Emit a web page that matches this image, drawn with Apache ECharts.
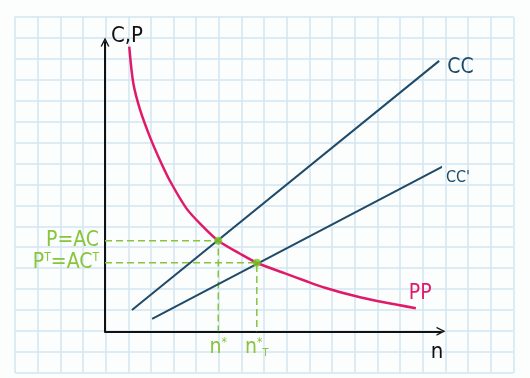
<!DOCTYPE html>
<html>
<head>
<meta charset="utf-8">
<script src="https://cdn.jsdelivr.net/npm/echarts@6/dist/echarts.min.js"></script>
<style>
  html, body { margin: 0; padding: 0; background: #fcfdfd; }
  #chart { width: 530px; height: 378px; }
</style>
</head>
<body>
<div id="chart"></div>
<script>
// units: one paper square per unit on each axis, origin at the axis corner
var ppN = [1.07, 1.25, 1.55, 1.99, 2.43, 2.87, 3.61, 4.34, 5.00, 5.96, 6.70, 7.95, 8.83, 9.71, 11.04, 12.36, 13.72];
var ppP = [13.58, 11.83, 10.56, 9.25, 8.15, 7.17, 5.84, 4.98, 4.32, 3.70, 3.27, 2.76, 2.41, 2.08, 1.68, 1.37, 1.10];
var ccN = [1.19, 14.75];
var ccC = [1.02, 12.9];
var cc2N = [2.08, 16.38];
var cc2C = [0.59, 8.70];
var eqN = [5.0, 6.7];
var eqP = [4.32, 3.27];
var nLabels = ['{n|n}{s|*}', '{n|n}{s|*}{t|T}'];
var pLabels = ['{n|P=AC}', '{n|P}{s|T}{n|=AC}{s|T}'];

var hand = "'Liberation Sans Narrow', 'DejaVu Sans Condensed', sans-serif";
var green = '#86c53c';
var greenRich = {
    n: { fontSize: 21, color: green, fontFamily: hand },
    s: { fontSize: 12, color: green, fontFamily: hand, verticalAlign: 'top', padding: [0, 0, 8, 0] },
    t: { fontSize: 11, color: green, fontFamily: hand, verticalAlign: 'bottom', padding: [8, 0, 0, 0] }
};

function pairs(xs, ys) {
    return xs.map(function (x, i) { return [x, ys[i]]; });
}

var chevron = 'path://M0,10 L5,0 L10,10 L8.4,10 L5,3.2 L1.6,10 Z';

var myChart = echarts.init(document.getElementById('chart'));
var option = {
    backgroundColor: '#fcfdfd',
    animation: false,
    grid: [
        { left: 105, top: 42, width: 336, height: 289.3, outerBoundsMode: 'none' },
        // graph paper behind everything
        { left: 15, top: 16.7, width: 498.3, height: 356.3, outerBoundsMode: 'none', z: 0 }
    ],
    xAxis: [
        {
            gridIndex: 0, type: 'value', min: 0, max: 14.83,
            name: 'n', nameLocation: 'end', nameGap: -4,
            nameTextStyle: { fontSize: 22, color: '#111', fontFamily: hand, align: 'center', verticalAlign: 'top', padding: [10, 0, 0, 0] },
            axisLine: { show: true, symbol: ['none', chevron], symbolSize: [10, 9], lineStyle: { color: '#111', width: 2 } },
            axisTick: { show: false },
            splitLine: { show: false },
            axisLabel: {
                customValues: eqN, margin: 6, rich: greenRich,
                formatter: function (v) { return nLabels[eqN.indexOf(v)]; }
            }
        },
        {
            gridIndex: 1, type: 'value', min: 0, max: 22, interval: 1,
            axisLine: { show: false }, axisTick: { show: false }, axisLabel: { show: false },
            splitLine: { show: true, lineStyle: { color: '#d3e6f1', width: 1.5 } }
        }
    ],
    yAxis: [
        {
            gridIndex: 0, type: 'value', min: 0, max: 13.8,
            name: 'C,P', nameLocation: 'end', nameGap: -5,
            nameTextStyle: { fontSize: 22, color: '#111', fontFamily: hand, align: 'left', padding: [0, 0, 0, 6] },
            axisLine: { show: true, symbol: ['none', chevron], symbolSize: [10, 9], lineStyle: { color: '#111', width: 2 } },
            axisTick: { show: false },
            splitLine: { show: false },
            axisLabel: {
                customValues: eqP, margin: 6, rich: greenRich,
                formatter: function (v) { return pLabels[eqP.indexOf(v)]; }
            }
        },
        {
            gridIndex: 1, type: 'value', min: 0, max: 17, interval: 1,
            axisLine: { show: false }, axisTick: { show: false }, axisLabel: { show: false },
            splitLine: { show: true, lineStyle: { color: '#d3e6f1', width: 1.5 } }
        }
    ],
    series: [
        {
            name: 'guide1', type: 'line', xAxisIndex: 0, yAxisIndex: 0, symbol: 'none', z: 3,
            lineStyle: { color: green, width: 1.5, type: [7, 4] },
            data: [[0, eqP[0]], [eqN[0], eqP[0]], [eqN[0], 0]]
        },
        {
            name: 'guide2', type: 'line', xAxisIndex: 0, yAxisIndex: 0, symbol: 'none', z: 3,
            lineStyle: { color: green, width: 1.5, type: [7, 4] },
            data: [[0, eqP[1]], [eqN[1], eqP[1]], [eqN[1], 0]]
        },
        {
            name: 'CC', type: 'line', xAxisIndex: 0, yAxisIndex: 0, symbol: 'none', clip: false, z: 4,
            lineStyle: { color: '#1f4a68', width: 2 },
            endLabel: { show: true, formatter: 'CC', fontSize: 21, color: '#1f4a68', fontFamily: hand, offset: [0, 7] },
            data: pairs(ccN, ccC)
        },
        {
            name: "CC'", type: 'line', xAxisIndex: 0, yAxisIndex: 0, symbol: 'none', clip: false, z: 4,
            lineStyle: { color: '#1f4a68', width: 2 },
            endLabel: { show: true, formatter: "CC'", fontSize: 16, color: '#1f4a68', fontFamily: hand, offset: [-4, 11] },
            data: pairs(cc2N, cc2C)
        },
        {
            name: 'PP', type: 'line', xAxisIndex: 0, yAxisIndex: 0, symbol: 'none', smooth: 0.3, clip: false, z: 4,
            lineStyle: { color: '#e01a68', width: 2.5 },
            endLabel: { show: true, formatter: 'PP', fontSize: 21, color: '#e01a68', fontFamily: hand, offset: [-15, -15] },
            data: pairs(ppN, ppP)
        },
        {
            name: 'eq', type: 'scatter', xAxisIndex: 0, yAxisIndex: 0, symbolSize: 8, z: 5,
            itemStyle: { color: '#72cc22' },
            data: pairs(eqN, eqP)
        }
    ]
};
myChart.setOption(option);
</script>
</body>
</html>
